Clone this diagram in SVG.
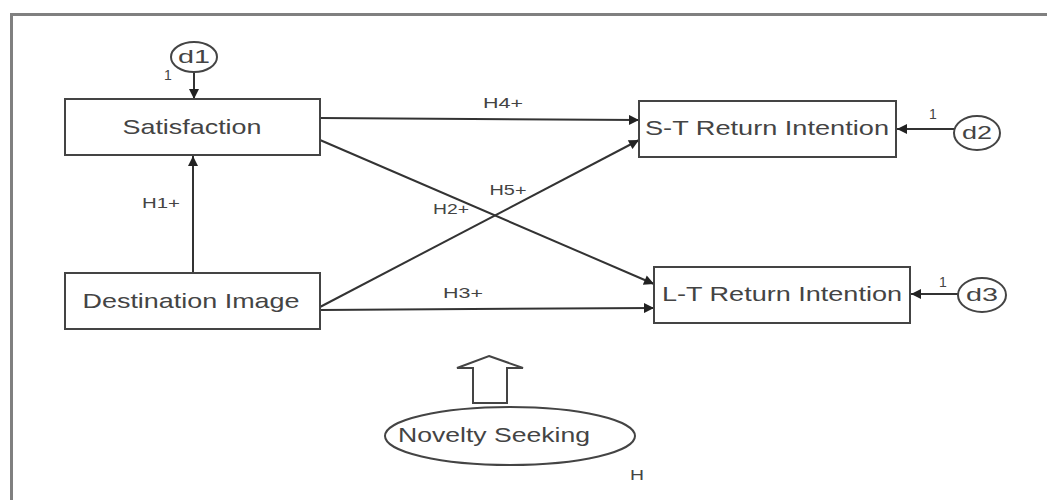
<svg xmlns="http://www.w3.org/2000/svg" width="1047" height="500" viewBox="0 0 1047 500">
<defs>
<style>
.box{fill:#fff;stroke:#444;stroke-width:2}
.lbl{font-family:"Liberation Sans",Arial,sans-serif;fill:#444;text-anchor:middle}
.big{font-size:21px}
.sm{font-size:14px}
.con{stroke:#333;stroke-width:2;fill:none;marker-end:url(#ah)}
</style>
<marker id="ah" viewBox="0 0 10 10" refX="10" refY="5" markerWidth="12" markerHeight="10" markerUnits="userSpaceOnUse" orient="auto">
<path d="M0,0 L10,5 L0,10 z" fill="#222"/>
</marker>
</defs>
<rect width="1047" height="500" fill="#fff"/>
<g id="frame">
<path d="M11.5,500 V14.5 H1047" fill="none" stroke="#808080" stroke-width="3"/>
</g>
<g id="connectors">
<line x1="194" y1="71" x2="194" y2="99" class="con"/>
<line x1="193" y1="273" x2="193" y2="156" class="con"/>
<line x1="320" y1="118" x2="639" y2="120" class="con"/>
<line x1="320" y1="140" x2="654" y2="284" class="con"/>
<line x1="320" y1="307" x2="639" y2="140" class="con"/>
<line x1="320" y1="310" x2="654" y2="308" class="con"/>
<line x1="954" y1="129" x2="897" y2="129" class="con"/>
<line x1="958" y1="294" x2="911" y2="294" class="con"/>
<text x="161" y="208" class="lbl sm" textLength="38" lengthAdjust="spacingAndGlyphs">H1+</text>
<text x="503" y="108" class="lbl sm" textLength="40" lengthAdjust="spacingAndGlyphs">H4+</text>
<text x="508" y="195" class="lbl sm" textLength="37" lengthAdjust="spacingAndGlyphs">H5+</text>
<text x="451" y="214" class="lbl sm" textLength="36" lengthAdjust="spacingAndGlyphs">H2+</text>
<text x="463" y="298" class="lbl sm" textLength="40" lengthAdjust="spacingAndGlyphs">H3+</text>
<text x="168" y="80" class="lbl sm">1</text>
<text x="933" y="119" class="lbl sm">1</text>
<text x="943" y="287" class="lbl sm">1</text>
</g>
<g id="d1">
<ellipse cx="194" cy="57" rx="23" ry="15" class="box"/>
<text x="194" y="63" class="lbl" style="font-size:18px" textLength="32" lengthAdjust="spacingAndGlyphs">d1</text>
</g>
<g id="satisfaction">
<rect x="65" y="99" width="255" height="56" class="box"/>
<text x="192" y="134" class="lbl big" textLength="139" lengthAdjust="spacingAndGlyphs">Satisfaction</text>
</g>
<g id="destination-image">
<rect x="65" y="273" width="255" height="56" class="box"/>
<text x="191" y="308" class="lbl big" textLength="217" lengthAdjust="spacingAndGlyphs">Destination Image</text>
</g>
<g id="st-return">
<rect x="639" y="101" width="257" height="56" class="box"/>
<text x="767" y="135" class="lbl big" textLength="244" lengthAdjust="spacingAndGlyphs">S-T Return Intention</text>
</g>
<g id="d2">
<ellipse cx="977" cy="133" rx="23" ry="17" class="box"/>
<text x="977" y="139" class="lbl" style="font-size:18px" textLength="30" lengthAdjust="spacingAndGlyphs">d2</text>
</g>
<g id="lt-return">
<rect x="654" y="267" width="256" height="56" class="box"/>
<text x="782" y="301" class="lbl big" textLength="240" lengthAdjust="spacingAndGlyphs">L-T Return Intention</text>
</g>
<g id="d3">
<ellipse cx="982" cy="295" rx="24" ry="17" class="box"/>
<text x="982" y="301" class="lbl" style="font-size:18px" textLength="32" lengthAdjust="spacingAndGlyphs">d3</text>
</g>
<g id="novelty-seeking">
<path d="M489,356 L523,368 L507,368 L507,403 L473,403 L473,368 L457,368 Z" fill="#fff" stroke="#444" stroke-width="2"/>
<ellipse cx="510" cy="436" rx="125" ry="29" class="box"/>
<text x="494" y="442" class="lbl big" textLength="192" lengthAdjust="spacingAndGlyphs">Novelty Seeking</text>
</g>
<text x="637" y="480" class="lbl sm" textLength="14" lengthAdjust="spacingAndGlyphs">H</text>
</svg>
